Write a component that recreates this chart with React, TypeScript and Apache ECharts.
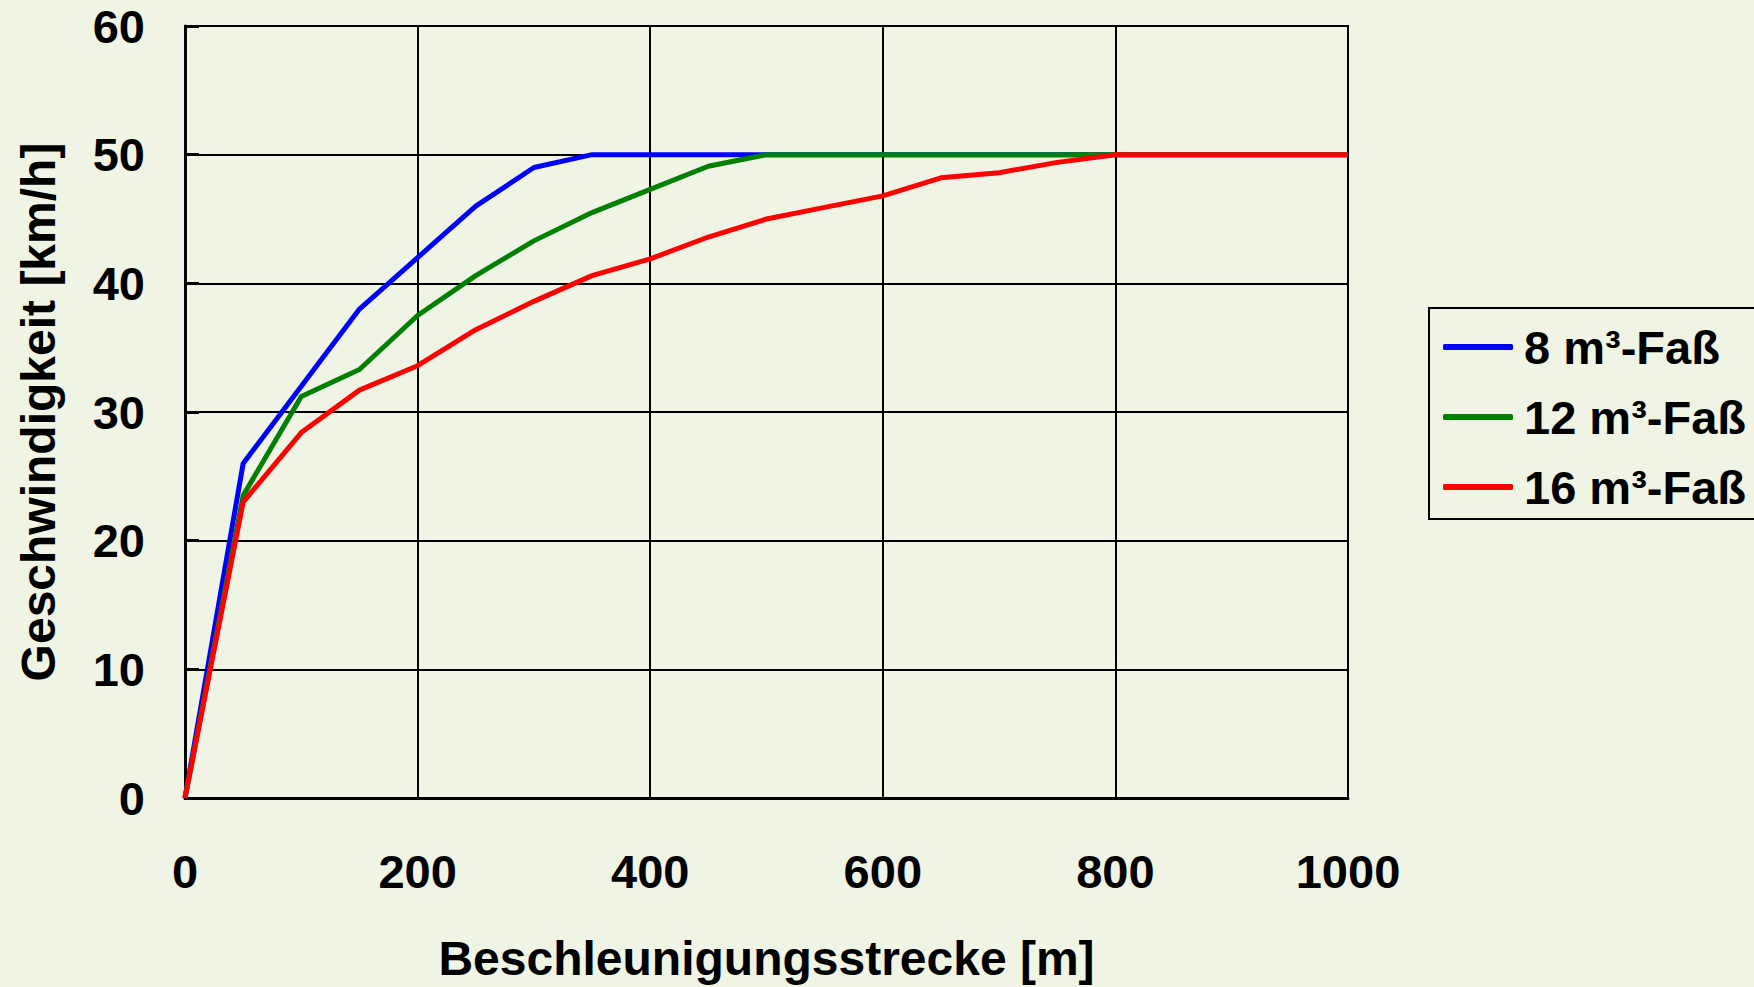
import React, { useEffect, useRef } from "react";
import * as echarts from "echarts";

const distances = [0, 50, 100, 150, 200, 250, 300, 350, 400, 450, 500, 550, 600, 650, 700, 750, 800, 850, 900, 950, 1000];
const fass8 = [0, 26, 32, 38, 42, 46, 49, 50, 50, 50, 50, 50, 50, 50, 50, 50, 50, 50, 50, 50, 50];
const fass12 = [0, 23.5, 31.2, 33.3, 37.5, 40.6, 43.3, 45.5, 47.3, 49.1, 50, 50, 50, 50, 50, 50, 50, 50, 50, 50, 50];
const fass16 = [0, 23, 28.4, 31.7, 33.6, 36.4, 38.6, 40.6, 41.9, 43.6, 45.0, 45.9, 46.8, 48.2, 48.6, 49.4, 50, 50, 50, 50, 50];
const seriesNames = ["8 m³-Faß", "12 m³-Faß", "16 m³-Faß"];
const seriesColors = ["#0000ff", "#008000", "#ff0000"];

const FONT = "'Liberation Sans', Arial, sans-serif";

export default function App() {
  const ref = useRef<HTMLDivElement>(null);
  useEffect(() => {
    if (!ref.current) return;
    const chart = echarts.init(ref.current, undefined, { renderer: "svg" });
    const values = [fass8, fass12, fass16];
    chart.setOption({
      animation: false,
      backgroundColor: "#f0f4e5",
      textStyle: { fontFamily: FONT, fontWeight: "bold", color: "#000" },
      grid: {
        left: 185,
        right: 406,
        top: 26,
        bottom: 186,
        show: true,
        borderColor: "#000",
        borderWidth: 2,
        backgroundColor: "transparent",
      },
      legend: {
        orient: "vertical",
        left: 1429,
        top: 308,
        padding: [14, 40, 7, 14],
        itemGap: 20,
        itemWidth: 70,
        itemHeight: 6,
        icon: "roundRect",
        borderColor: "#000",
        borderWidth: 2,
        data: seriesNames,
        textStyle: {
          fontFamily: FONT,
          fontWeight: "bold",
          fontSize: 47,
          lineHeight: 50,
          color: "#000",
          padding: [0, 0, 0, 6],
        },
      },
      xAxis: {
        type: "value",
        min: 0,
        max: 1000,
        interval: 200,
        name: "Beschleunigungsstrecke [m]",
        nameLocation: "middle",
        nameGap: 136,
        nameTextStyle: { fontFamily: FONT, fontWeight: "bold", fontSize: 48, color: "#000" },
        axisLine: { show: true, lineStyle: { color: "#000", width: 3 } },
        axisTick: { show: false },
        axisLabel: {
          fontFamily: FONT,
          fontWeight: "bold",
          fontSize: 47,
          color: "#000",
          margin: 50,
          formatter: (v: number) => String(v),
        },
        splitLine: { show: true, lineStyle: { color: "#000", width: 2 } },
      },
      yAxis: {
        type: "value",
        min: 0,
        max: 60,
        interval: 10,
        name: "Geschwindigkeit [km/h]",
        nameLocation: "middle",
        nameGap: 123,
        nameRotate: 90,
        nameTextStyle: { fontFamily: FONT, fontWeight: "bold", fontSize: 48, color: "#000" },
        axisLine: { show: true, lineStyle: { color: "#000", width: 3 } },
        axisTick: { show: true, inside: true, length: 14, lineStyle: { color: "#000", width: 3 } },
        axisLabel: { fontFamily: FONT, fontWeight: "bold", fontSize: 47, color: "#000", margin: 40 },
        splitLine: { show: true, lineStyle: { color: "#000", width: 2 } },
      },
      series: values.map((vals, i) => ({
        name: seriesNames[i],
        type: "line",
        data: distances.map((d, j) => [d, vals[j]]),
        showSymbol: false,
        symbol: "none",
        lineStyle: { color: seriesColors[i], width: 5 },
        itemStyle: { color: seriesColors[i] },
        clip: false,
      })),
    });
    return () => chart.dispose();
  }, []);
  return (
    <div
      ref={ref}
      style={{ position: "fixed", left: 0, top: 0, width: 1754, height: 987 }}
    />
  );
}
